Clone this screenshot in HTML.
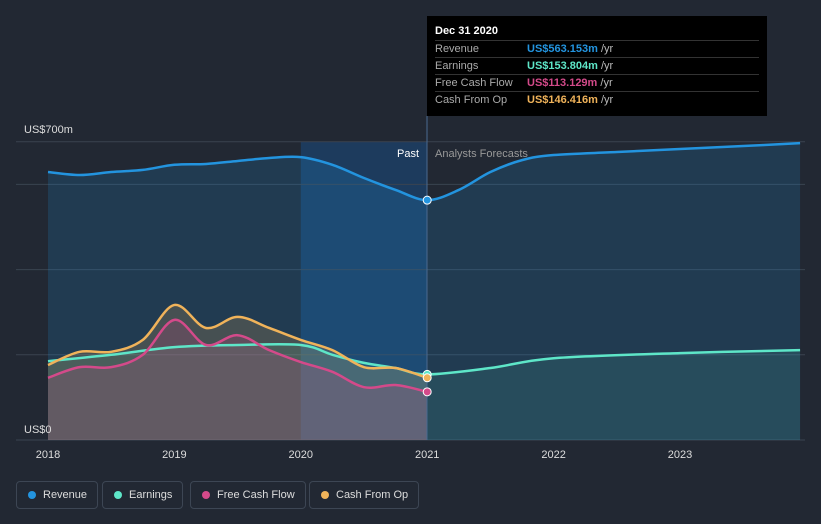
<!DOCTYPE html>
<html><head><meta charset="utf-8"><style>
body{margin:0;background:#222833;font-family:"Liberation Sans",sans-serif;}
#wrap{position:relative;width:821px;height:524px;overflow:hidden;background:#222833}
.tip{position:absolute;left:427px;top:16px;width:340px;height:100px;background:#000;color:#fff;font-size:11px}
.tip .h{position:absolute;left:8px;top:9px;font-weight:bold}
.row{position:absolute;left:8px;width:324px;height:16px;border-top:1px solid #333;color:#aaa;line-height:16px}
.row span{position:absolute;left:92px;font-weight:bold}
.row i{font-style:normal;color:#bbb;font-weight:normal}
.leg{position:absolute;top:481px;height:26px;border:1px solid #3d4654;border-radius:4px;color:#ddd;font-size:11px;line-height:26px;padding:0 10px 0 26px}
.leg b{position:absolute;left:11px;top:9px;width:8px;height:8px;border-radius:50%}
</style></head><body>
<div id="wrap">
<svg id="svg" width="821" height="524" style="position:absolute;left:0;top:0"></svg>
<div class="tip">
<div class="h">Dec 31 2020</div>
<div class="row" style="top:24px">Revenue<span style="color:#2394df">US$563.153m <i>/yr</i></span></div>
<div class="row" style="top:41px">Earnings<span style="color:#5ee6c8">US$153.804m <i>/yr</i></span></div>
<div class="row" style="top:58px">Free Cash Flow<span style="color:#d44a8a">US$113.129m <i>/yr</i></span></div>
<div class="row" style="top:75px">Cash From Op<span style="color:#f0b35a">US$146.416m <i>/yr</i></span></div>
</div>
<div class="leg" style="left:16px"><b style="background:#2394df"></b>Revenue</div>
<div class="leg" style="left:102px"><b style="background:#5ee6c8"></b>Earnings</div>
<div class="leg" style="left:190px"><b style="background:#d44a8a"></b>Free Cash Flow</div>
<div class="leg" style="left:309px"><b style="background:#f0b35a"></b>Cash From Op</div>
</div>
<script>
const revX=[2018,2018.25,2018.5,2018.75,2019,2019.25,2019.5,2019.75,2020,2020.25,2020.5,2020.75,2021,2021.25,2021.5,2021.75,2022,2022.5,2023,2023.5,2023.95];
const revV=[629,622,629,634,646,648,655,662,664,646,615,587,563,587,629,657,669,676,683,690,697];
const earnX=[2018,2018.5,2019,2019.5,2020,2020.25,2020.5,2020.75,2021,2021.5,2022,2023,2023.95];
const earnV=[185,200,218,223,223,200,181,169,154,169,192,204,211];
const fcfX=[2018,2018.25,2018.5,2018.75,2019,2019.25,2019.5,2019.75,2020,2020.25,2020.5,2020.75,2021];
const fcfV=[146,171,171,200,282,223,246,211,183,160,124,129,113];
const cfoX=[2018,2018.25,2018.5,2018.75,2019,2019.25,2019.5,2019.75,2020,2020.25,2020.5,2020.75,2021];
const cfoV=[176,207,207,235,317,263,289,263,235,211,171,169,146];
const xTicks=[2018,2019,2020,2021,2022,2023];
const yTicks=[0,200,400,600,700];
const xs=y=>48+(y-2018)*126.4, ys=v=>440-v*0.426;
const S=document.getElementById('svg'),NS='http://www.w3.org/2000/svg';
function el(t,a,p){const e=document.createElementNS(NS,t);for(const k in a)e.setAttribute(k,a[k]);(p||S).appendChild(e);return e;}
function path(X,V){const P=X.map((x,i)=>[xs(x),ys(V[i])]);let d='M'+P[0][0]+','+P[0][1];
 for(let i=0;i<P.length-1;i++){const p0=P[Math.max(0,i-1)],p1=P[i],p2=P[i+1],p3=P[Math.min(P.length-1,i+2)];
 const c1=[p1[0]+(p2[0]-p0[0])/6,p1[1]+(p2[1]-p0[1])/6],c2=[p2[0]-(p3[0]-p1[0])/6,p2[1]-(p3[1]-p1[1])/6];
 d+=' C'+c1[0]+','+c1[1]+' '+c2[0]+','+c2[1]+' '+p2[0]+','+p2[1];}return d;}
let e=el('rect',{x:xs(2020),y:142,width:xs(2021)-xs(2020),height:298,fill:'#1a4a80',opacity:0.55});

yTicks.forEach(t=>{const l=el('line',{x1:16,x2:805,y1:ys(t),y2:ys(t),stroke:'#3a4350','stroke-width':1});});
e=el('path',{d:path(revX,revV)+' L'+xs(revX[revX.length-1])+',440 L'+xs(2018)+',440 Z',fill:'#2394df','fill-opacity':0.18});

e=el('path',{d:path(earnX,earnV)+' L'+xs(earnX[earnX.length-1])+',440 L'+xs(2018)+',440 Z',fill:'#5ee6c8','fill-opacity':0.1});

e=el('path',{d:path(cfoX,cfoV)+' L'+xs(2021)+',440 L'+xs(2018)+',440 Z',fill:'#f0b35a','fill-opacity':0.18});

e=el('path',{d:path(fcfX,fcfV)+' L'+xs(2021)+',440 L'+xs(2018)+',440 Z',fill:'#d44a8a','fill-opacity':0.18});

e=el('line',{x1:427,x2:427,y1:116,y2:440,stroke:'#4a6a90','stroke-width':1});

[[earnX,earnV,'#5ee6c8','earnings-line'],[fcfX,fcfV,'#d44a8a','fcf-line'],[cfoX,cfoV,'#f0b35a','cfo-line'],[revX,revV,'#2394df','revenue-line']].forEach(s=>{
 const p=el('path',{d:path(s[0],s[1]),fill:'none',stroke:s[2],'stroke-width':2.5});
 
 const i=s[0].indexOf(2021);
 const c=el('circle',{cx:xs(2021),cy:ys(s[1][i]),r:4,fill:s[2],stroke:'#fff','stroke-width':1});
 
});
xTicks.forEach(t=>{const x=el('text',{x:xs(t),y:458,fill:'#ddd','font-size':11,'text-anchor':'middle'});x.textContent=t;});
e=el('text',{x:24,y:133,fill:'#ddd','font-size':11});e.textContent='US$700m';
e=el('text',{x:24,y:433,fill:'#ddd','font-size':11});e.textContent='US$0';
e=el('text',{x:419,y:157,fill:'#fff','font-size':11,'text-anchor':'end'});e.textContent='Past';
e=el('text',{x:435,y:157,fill:'#999','font-size':11});e.textContent='Analysts Forecasts';
</script>
</body></html>
